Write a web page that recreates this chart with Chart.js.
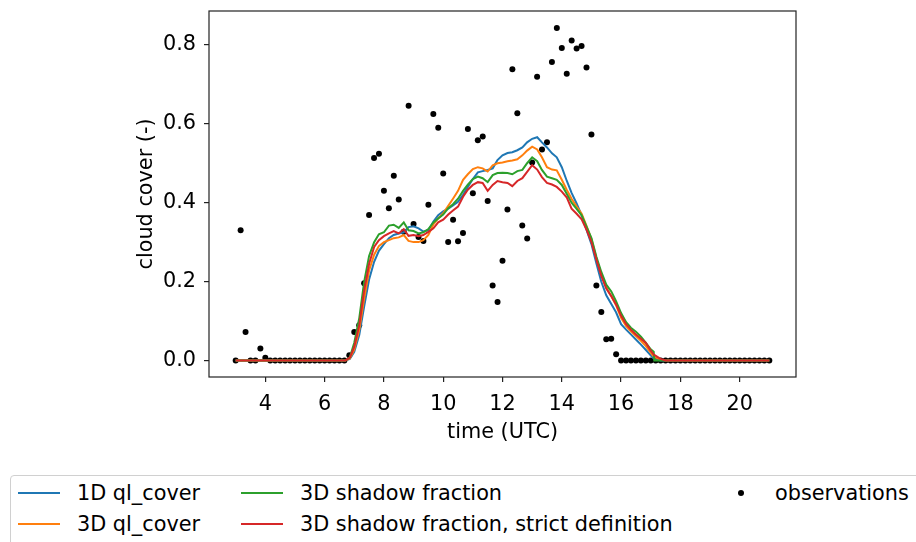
<!DOCTYPE html>
<html>
<head>
<meta charset="utf-8">
<script src="https://cdn.jsdelivr.net/npm/chart.js@4/dist/chart.umd.min.js"></script>
<style>
  html, body { margin: 0; padding: 0; background: #fff; }
  #wrap { position: relative; width: 916px; height: 542px; overflow: hidden; font-family: "DejaVu Sans", sans-serif; }
  #c { position: absolute; left: 0; top: 0; }
  #legend { position: absolute; left: 10px; top: 475px; width: 930px; height: 90px; border: 1px solid #d0d0d0; border-radius: 4px; box-sizing: border-box; background: #fff; }
  .item { position: absolute; font-size: 20.8px; line-height: 24px; color: #000; white-space: nowrap; }
  .handle { position: absolute; height: 2px; }
  .dot { position: absolute; width: 6px; height: 6px; border-radius: 50%; background: #000; }
</style>
</head>
<body>
<div id="wrap">
  <canvas id="c" width="916" height="542"></canvas>
  <div id="legend"></div>
</div>
<script>
// ---------------- data ----------------
const xTicks = [4, 6, 8, 10, 12, 14, 16, 18, 20];
const yTicks = [0.0, 0.2, 0.4, 0.6, 0.8];

const seriesLabels = ["1D ql_cover", "3D ql_cover", "3D shadow fraction", "3D shadow fraction, strict definition"];
const obsLabel = "observations";

const modelTime = [3.0, 4.0, 5.0, 6.0, 6.7, 6.85,
  7.0, 7.17, 7.33, 7.5, 7.67, 7.83,
  8.0, 8.17, 8.33, 8.5, 8.67, 8.83,
  9.0, 9.17, 9.33, 9.5, 9.67, 9.83,
  10.0, 10.17, 10.33, 10.5, 10.67, 10.83,
  11.0, 11.17, 11.33, 11.5, 11.67, 11.83,
  12.0, 12.17, 12.33, 12.5, 12.67, 12.83,
  13.0, 13.17, 13.33, 13.5, 13.67, 13.83,
  14.0, 14.17, 14.33, 14.5, 14.67, 14.83,
  15.0, 15.17, 15.33, 15.5, 15.67, 15.83,
  16.0, 16.17, 16.33, 16.5, 16.67, 16.83,
  17.0, 17.1, 17.12, 17.33, 17.5, 18.0, 19.0, 20.0, 21.0];

const cover1D = [0, 0, 0, 0, 0, 0.004,
  0.022, 0.065, 0.135, 0.205, 0.25, 0.278,
  0.295, 0.31, 0.318, 0.322, 0.325, 0.338,
  0.34, 0.335, 0.327, 0.33, 0.352, 0.368,
  0.378, 0.385, 0.393, 0.402, 0.42, 0.44,
  0.46, 0.477, 0.48, 0.483, 0.487, 0.508,
  0.52, 0.526, 0.528, 0.533, 0.54, 0.553,
  0.562, 0.566, 0.553, 0.54, 0.525, 0.515,
  0.49, 0.455, 0.425, 0.398, 0.368, 0.332,
  0.295, 0.245, 0.2, 0.165, 0.143, 0.122,
  0.092, 0.078, 0.066, 0.053, 0.04, 0.027,
  0.013, 0.005, 0.004, 0, 0, 0, 0, 0, 0];

const cover3D = [0, 0, 0, 0, 0, 0.005,
  0.028, 0.078, 0.155, 0.228, 0.268, 0.29,
  0.3, 0.305, 0.31, 0.312, 0.318, 0.303,
  0.3, 0.3, 0.305, 0.318, 0.345, 0.36,
  0.373, 0.392, 0.41, 0.43, 0.458, 0.472,
  0.485, 0.49, 0.487, 0.479, 0.495, 0.5,
  0.502, 0.505, 0.507, 0.51, 0.52, 0.532,
  0.542, 0.535, 0.515, 0.49, 0.484, 0.482,
  0.458, 0.432, 0.41, 0.39, 0.372, 0.342,
  0.308, 0.258, 0.218, 0.185, 0.163, 0.14,
  0.108, 0.087, 0.074, 0.062, 0.05, 0.037,
  0.02, 0.01, 0.009, 0.002, 0, 0, 0, 0, 0];

const shadow3D = [0, 0, 0, 0, 0, 0.008,
  0.045, 0.108, 0.198, 0.265, 0.3, 0.32,
  0.325, 0.342, 0.344, 0.336, 0.35, 0.33,
  0.328, 0.322, 0.325, 0.333, 0.35, 0.36,
  0.37, 0.386, 0.396, 0.41, 0.43, 0.446,
  0.46, 0.466, 0.462, 0.452, 0.47, 0.475,
  0.476, 0.475, 0.472, 0.48, 0.483, 0.5,
  0.515, 0.505, 0.483, 0.466, 0.462, 0.458,
  0.445, 0.422, 0.4, 0.384, 0.368, 0.34,
  0.31, 0.262, 0.225, 0.192, 0.175, 0.15,
  0.12, 0.097, 0.083, 0.073, 0.06, 0.045,
  0.028, 0.022, 0, 0, 0, 0, 0, 0, 0];

const shadowStrict3D = [0, 0, 0, 0, 0, 0.007,
  0.035, 0.09, 0.175, 0.245, 0.288, 0.305,
  0.315, 0.322, 0.328, 0.322, 0.333, 0.316,
  0.318, 0.315, 0.318, 0.326, 0.335, 0.35,
  0.357, 0.37, 0.38, 0.39, 0.415, 0.433,
  0.445, 0.452, 0.45, 0.43, 0.445, 0.455,
  0.452, 0.45, 0.442, 0.455, 0.462, 0.478,
  0.495, 0.484, 0.465, 0.45, 0.446, 0.44,
  0.428, 0.413, 0.385, 0.372, 0.358, 0.332,
  0.3, 0.255, 0.215, 0.182, 0.163, 0.142,
  0.113, 0.092, 0.078, 0.066, 0.055, 0.045,
  0.025, 0.015, 0.014, 0.004, 0, 0, 0, 0, 0];

const obsTime = [3.0, 3.167, 3.333, 3.5, 3.667, 3.833,
  4.0, 4.167, 4.333, 4.5, 4.667, 4.833,
  5.0, 5.167, 5.333, 5.5, 5.667, 5.833,
  6.0, 6.167, 6.333, 6.5, 6.667, 6.833,
  7.0, 7.167, 7.333, 7.5, 7.667, 7.833,
  8.0, 8.167, 8.333, 8.5, 8.667, 8.833,
  9.0, 9.167, 9.333, 9.5, 9.667, 9.833,
  10.0, 10.167, 10.333, 10.5, 10.667, 10.833,
  11.0, 11.167, 11.333, 11.5, 11.667, 11.833,
  12.0, 12.167, 12.333, 12.5, 12.667, 12.833,
  13.0, 13.167, 13.333, 13.5, 13.667, 13.833,
  14.0, 14.167, 14.333, 14.5, 14.667, 14.833,
  15.0, 15.167, 15.333, 15.5, 15.667, 15.833,
  16.0, 16.167, 16.333, 16.5, 16.667, 16.833,
  17.0, 17.167, 17.333, 17.5, 17.667, 17.833,
  18.0, 18.167, 18.333, 18.5, 18.667, 18.833,
  19.0, 19.167, 19.333, 19.5, 19.667, 19.833,
  20.0, 20.167, 20.333, 20.5, 20.667, 20.833,
  21.0];

const obsCover = [0, 0.33, 0.072, 0, 0, 0.03,
  0.007, 0, 0, 0, 0, 0,
  0, 0, 0, 0, 0, 0,
  0, 0, 0, 0, 0, 0.013,
  0.072, 0.089, 0.196, 0.369, 0.513, 0.524,
  0.43, 0.386, 0.468, 0.408, 0.326, 0.646,
  0.346, 0.313, 0.303, 0.395, 0.625, 0.59,
  0.474, 0.3, 0.357, 0.302, 0.323, 0.587,
  0.424, 0.558, 0.568, 0.404, 0.19, 0.148,
  0.253, 0.383, 0.738, 0.627, 0.342, 0.309,
  0.502, 0.719, 0.535, 0.553, 0.757, 0.843,
  0.792, 0.727, 0.811, 0.791, 0.797, 0.743,
  0.573, 0.19, 0.123, 0.054, 0.055, 0.016,
  0, 0, 0, 0, 0, 0,
  0, 0, 0, 0, 0, 0,
  0, 0, 0, 0, 0, 0,
  0, 0, 0, 0, 0, 0,
  0, 0, 0, 0, 0, 0,
  0];

// ---------------- styling ----------------
const colors = ["#1f77b4", "#ff7f0e", "#2ca02c", "#d62728"];
const FONT = { family: "'DejaVu Sans', sans-serif", size: 20.8 };

const toXY = (xs, ys) => xs.map((x, i) => ({ x: x, y: ys[i] }));
const modelSeries = [cover1D, cover3D, shadow3D, shadowStrict3D];

const datasets = modelSeries.map((ys, i) => ({
  label: seriesLabels[i],
  data: toXY(modelTime, ys),
  borderColor: colors[i],
  backgroundColor: colors[i],
  borderWidth: 2,
  pointRadius: 0,
  tension: 0,
  fill: false,
  order: 4 - i
}));
datasets.push({
  label: obsLabel,
  type: "scatter",
  data: toXY(obsTime, obsCover),
  showLine: false,
  pointRadius: 3,
  pointBorderWidth: 0,
  pointBackgroundColor: "#000",
  backgroundColor: "#000",
  borderColor: "#000",
  order: 10
});

const framePlugin = {
  id: "frame",
  afterDraw(chart) {
    const { ctx, chartArea: a } = chart;
    ctx.save();
    ctx.strokeStyle = "#222";
    ctx.lineWidth = 1.2;
    ctx.strokeRect(a.left, a.top, a.right - a.left, a.bottom - a.top);
    ctx.restore();
  }
};

new Chart(document.getElementById("c"), {
  type: "line",
  data: { datasets },
  options: {
    responsive: false,
    animation: false,
    devicePixelRatio: 1,
    layout: { padding: { left: 130, right: 120, top: 11, bottom: 93 } },
    plugins: { legend: { display: false }, tooltip: { enabled: false } },
    scales: {
      x: {
        type: "linear",
        min: 2.1, max: 21.9,
        afterBuildTicks: s => { s.ticks = xTicks.map(v => ({ value: v })); },
        afterFit: s => { s.height = 72; s.paddingLeft = 0; s.paddingRight = 0; },
        ticks: { font: FONT, color: "#000", padding: 10, maxRotation: 0, callback: v => String(v) },
        grid: { drawOnChartArea: false, drawTicks: true, tickLength: 5, color: "#222", lineWidth: 1.2 },
        border: { display: false },
        title: { display: true, text: "time (UTC)", font: FONT, color: "#000", padding: { top: 4, bottom: 4 } }
      },
      y: {
        type: "linear",
        min: -0.042, max: 0.886,
        afterBuildTicks: s => { s.ticks = yTicks.map(v => ({ value: v })); },
        afterFit: s => { s.width = 79; s.paddingTop = 0; s.paddingBottom = 0; },
        ticks: { font: FONT, color: "#000", padding: 8, callback: v => Number(v).toFixed(1) },
        grid: { drawOnChartArea: false, drawTicks: true, tickLength: 5, color: "#222", lineWidth: 1.2 },
        border: { display: false },
        title: { display: true, text: "cloud cover (-)", font: FONT, color: "#000", padding: { top: 4, bottom: 4 } }
      }
    }
  },
  plugins: [framePlugin]
});

// ---------------- legend (HTML, built from the datasets) ----------------
const legendSlots = [
  { hx: 7, tx: 66, y: 17 },
  { hx: 7, tx: 66, y: 48 },
  { hx: 230, tx: 289, y: 17 },
  { hx: 230, tx: 289, y: 48 },
  { hx: 730, tx: 764, y: 17, dot: true }
];
const leg = document.getElementById("legend");
const legendEntries = seriesLabels.map((l, i) => ({ label: l, color: colors[i] })).concat([{ label: obsLabel, color: "#000" }]);
legendEntries.forEach((e, i) => {
  const s = legendSlots[i];
  if (s.dot) {
    const d = document.createElement("div");
    d.className = "dot";
    d.style.left = (s.hx - 3) + "px";
    d.style.top = (s.y - 3) + "px";
    leg.appendChild(d);
  } else {
    const h = document.createElement("div");
    h.className = "handle";
    h.style.left = s.hx + "px";
    h.style.width = "42px";
    h.style.top = (s.y - 1) + "px";
    h.style.background = e.color;
    leg.appendChild(h);
  }
  const t = document.createElement("div");
  t.className = "item";
  t.style.left = s.tx + "px";
  t.style.top = (s.y - 12) + "px";
  t.textContent = e.label;
  leg.appendChild(t);
});
</script>
</body>
</html>
